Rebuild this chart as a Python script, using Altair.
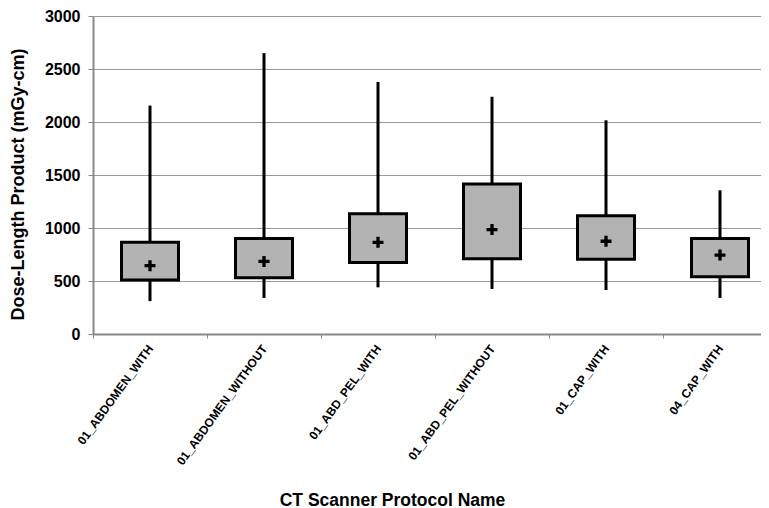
import altair as alt
import pandas as pd

cats = ["01_ABDOMEN_WITH", "01_ABDOMEN_WITHOUT", "01_ABD_PEL_WITH",
        "01_ABD_PEL_WITHOUT", "01_CAP_WITH", "04_CAP_WITH"]
mins = [310, 340, 440, 425, 415, 340]
q1 = [510, 530, 675, 710, 705, 540]
q3 = [865, 900, 1135, 1415, 1115, 900]
maxs = [2155, 2650, 2378, 2238, 2016, 1356]
means = [645, 685, 865, 985, 875, 745]

df = pd.DataFrame({"cat": cats, "lo": mins, "q1": q1, "q3": q3, "hi": maxs, "mean": means})

FONT = "Liberation Sans"

xenc = alt.X(
    "cat:N", sort=cats,
    scale=alt.Scale(domain=cats, range=[0, 684], paddingInner=0, paddingOuter=0),
    axis=alt.Axis(
        title="CT Scanner Protocol Name", titleFont=FONT, titleFontSize=17.5,
        titleFontWeight="bold", titleColor="black",
        titleX=299, titleY=171, titleAlign="center", titleBaseline="alphabetic",
        labelAngle=-54, labelAlign="right", labelBaseline="middle",
        labelFont=FONT, labelFontSize=12, labelFontWeight="bold", labelColor="black",
        labelPadding=8, tickBand="extent", tickSize=4, tickColor="#888888",
        domainColor="#888888", domainWidth=2, grid=False,
    ),
)


def yenc(field):
    return alt.Y(
        f"{field}:Q",
        scale=alt.Scale(domain=[0, 3000], nice=False, zero=True),
        axis=alt.Axis(
            title="Dose-Length Product (mGy-cm)", titleFont=FONT, titleFontSize=18,
            titleFontWeight="bold", titleColor="black",
            titleX=-75, titleY=168, titleAngle=270, titleAlign="center",
            titleBaseline="middle",
            values=[0, 500, 1000, 1500, 2000, 2500, 3000], format="d",
            labelFont=FONT, labelFontSize=16, labelFontWeight="bold", labelColor="black",
            labelPadding=8, tickSize=5, tickColor="#888888",
            domainColor="#888888", domainWidth=2,
            grid=True, gridColor="#999999", gridWidth=1,
        ),
    )


base = alt.Chart(df)

whisk = base.mark_rule(color="black", strokeWidth=3).encode(
    x=xenc, y=yenc("lo"), y2="hi:Q")
box = base.mark_bar(size=57, fill="#b3b3b3", stroke="black", strokeWidth=3).encode(
    x=xenc, y=yenc("q1"), y2="q3:Q")
plus = base.mark_point(
    shape="M-1,-0.3H1V0.3H-1Z M-0.3,-1H0.3V1H-0.3Z",
    size=121, filled=True, color="black", strokeWidth=0, opacity=1,
).encode(x=xenc, y=yenc("mean"))

chart = alt.layer(whisk, box, plus).properties(
    width=668, height=318,
    autosize=alt.AutoSizeParams(type="none"),
    padding={"left": 85, "top": 8, "right": 0, "bottom": 174},
).configure_view(stroke=None)

chart.save("out.html", embed_options={"renderer": "svg", "actions": False})
